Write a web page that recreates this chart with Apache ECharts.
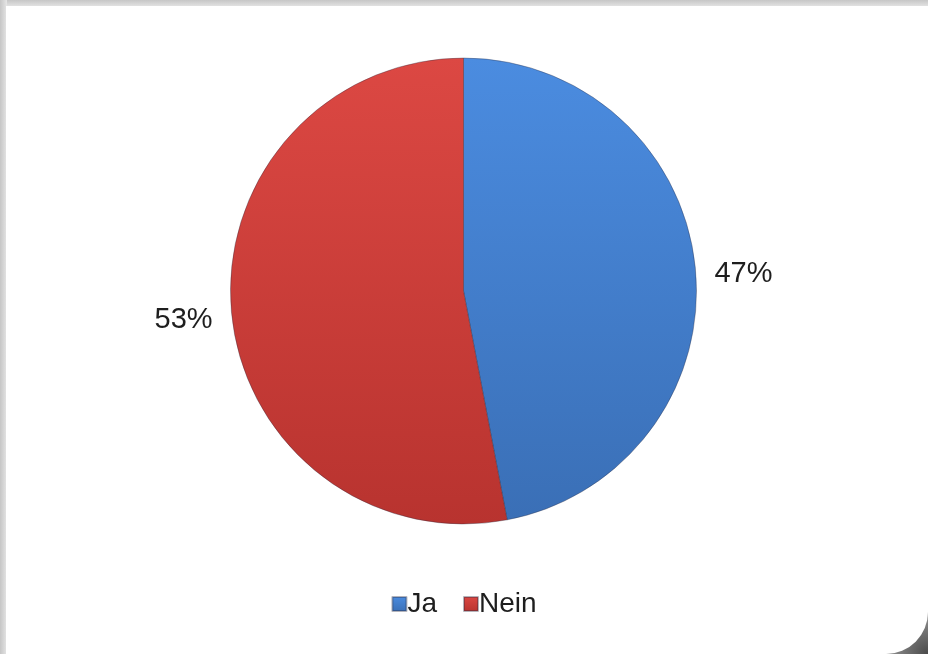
<!DOCTYPE html>
<html>
<head>
<meta charset="utf-8">
<script src="https://cdn.jsdelivr.net/npm/echarts@6/dist/echarts.min.js"></script>
<style>
  html, body { margin: 0; padding: 0; background: #ffffff; }
  #chart { width: 928px; height: 654px; }
</style>
</head>
<body>
<div id="chart"></div>
<script>
// Survey answers and their shares (percent)
const categories = ['Ja', 'Nein'];
const shares = [47, 53];
const sliceColors = [
  ['#4b8ce0', '#3a6fb6'],
  ['#dc4843', '#b8332f']
];

const chart = echarts.init(document.getElementById('chart'), null, { renderer: 'canvas' });

const W = 928, H = 654;

const pieData = categories.map((name, i) => ({
  name: name,
  value: shares[i],
  itemStyle: {
    color: new echarts.graphic.LinearGradient(0, 0, 0, 1, [
      { offset: 0, color: sliceColors[i][0] },
      { offset: 1, color: sliceColors[i][1] }
    ])
  }
}));

chart.setOption({
  backgroundColor: '#ffffff',
  animation: false,
  graphic: [
    // grey backdrop around the card
    { type: 'rect', z: -10, silent: true, shape: { x: 0, y: 0, width: W, height: H },
      style: { fill: '#d4d4d4' } },
    // darker shadow behind the rounded bottom-right corner
    { type: 'rect', z: -9, silent: true, shape: { x: W - 60, y: H - 60, width: 60, height: 60 },
      style: { fill: new echarts.graphic.RadialGradient(1, 1, 1, [
        { offset: 0, color: '#4a4a4a' },
        { offset: 0.6, color: '#8a8a8a' },
        { offset: 1, color: '#d4d4d4' }
      ]) } },
    // top soft edge
    { type: 'rect', z: -8, silent: true, shape: { x: 0, y: 0, width: W, height: 7 },
      style: { fill: new echarts.graphic.LinearGradient(0, 0, 0, 1, [
        { offset: 0, color: '#c6c6c6' }, { offset: 1, color: '#e6e6e6' }
      ]) } },
    // left soft edge
    { type: 'rect', z: -8, silent: true, shape: { x: 0, y: 0, width: 7, height: H },
      style: { fill: new echarts.graphic.LinearGradient(0, 0, 1, 0, [
        { offset: 0, color: '#c6c6c6' }, { offset: 1, color: '#e6e6e6' }
      ]) } },
    // white card
    { type: 'rect', z: -7, silent: true,
      shape: { x: 6, y: 6, width: W - 6, height: H - 6, r: [0, 0, 42, 0] },
      style: { fill: '#ffffff' } }
  ],
  legend: {
    data: categories,
    bottom: 31,
    left: 'center',
    itemWidth: 14,
    itemHeight: 14,
    itemGap: 26,
    icon: 'rect',
    textStyle: { fontFamily: 'Liberation Sans, Arial, sans-serif', fontSize: 28, color: '#1e1e1e', padding: [0, 0, 0, -4] }
  },
  color: [sliceColors[0][0], sliceColors[1][0]],
  series: [{
    type: 'pie',
    center: [463.5, 291],
    radius: 233,
    startAngle: 90,
    clockwise: true,
    label: {
      show: true,
      position: 'outside',
      formatter: '{c}%',
      fontFamily: 'Liberation Sans, Arial, sans-serif',
      fontSize: 29,
      color: '#1e1e1e'
    },
    labelLine: { show: false, length: 14, length2: 0 },
    labelLayout: { dy: 6 },
    itemStyle: { borderColor: 'rgba(40,40,60,0.35)', borderWidth: 1 },
    emphasis: { disabled: true },
    data: pieData
  }]
});
</script>
</body>
</html>
